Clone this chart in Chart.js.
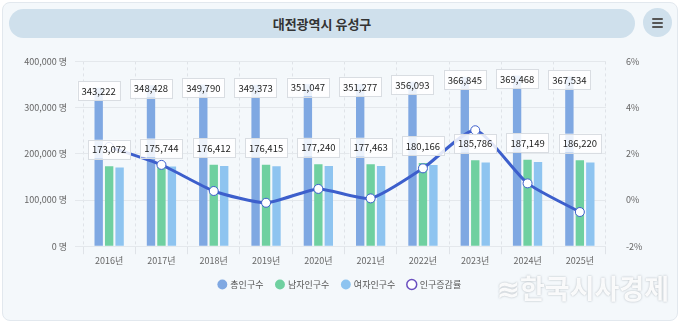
<!DOCTYPE html>
<html><head><meta charset="utf-8">
<script src="https://cdn.jsdelivr.net/npm/chart.js@4.4.1/dist/chart.umd.min.js"></script>
<style>
html,body{margin:0;padding:0;background:#fff;width:680px;height:323px;overflow:hidden;font-family:"Noto Sans CJK KR","Noto Sans",sans-serif;}
#card{position:absolute;left:2px;top:2px;width:674px;height:317px;background:#f4f8fb;border:1px solid #e2e8ee;border-radius:8px;}
#title{position:absolute;left:9px;top:9px;width:626px;height:29px;background:#cfe0ec;border-radius:15px;text-align:center;line-height:29px;font-size:13px;font-weight:bold;color:#333;}
#menu{position:absolute;left:643px;top:8px;width:29px;height:29px;border-radius:50%;background:#cfe0ec;}
#menu i{position:absolute;left:9px;width:11px;height:2px;background:#555;border-radius:1px;}
#wrap{position:absolute;left:0;top:44px;width:680px;height:255px;}
#wm{position:absolute;left:497px;top:268px;font-size:27px;font-weight:bold;color:rgba(255,255,255,0.92);text-shadow:0 0 2px rgba(110,120,130,0.55);letter-spacing:0px;}
</style></head>
<body>
<div id="card"></div>
<div id="title">대전광역시 유성구</div>
<div id="menu"><i style="top:10px"></i><i style="top:14px"></i><i style="top:18px"></i></div>
<div id="wrap"><canvas id="c"></canvas></div>
<div id="wm">≋한국시사경제</div>
<script>
const years = ['2016년','2017년','2018년','2019년','2020년','2021년','2022년','2023년','2024년','2025년'];
const totalPop = [343222,348428,349790,349373,351047,351277,356093,366845,369468,367534];
const malePop = [173072,175744,176412,176415,177240,177463,180166,185786,187149,186220];
const femalePop = [170150,172684,173378,172958,173807,173814,175927,181059,182319,181314];
const growthRate = [2.3,1.52,0.39,-0.12,0.48,0.07,1.37,3.02,0.72,-0.52];
const seriesNames = ['총인구수','남자인구수','여자인구수','인구증감률'];

const fmt = v => v.toLocaleString('en-US');
const labelPlugin = {
  id:'boxLabels',
  afterDatasetsDraw(chart){
    const ctx = chart.ctx;
    ctx.save();
    ctx.font = '9.5px "Noto Sans CJK KR", sans-serif';
    ctx.textAlign='center'; ctx.textBaseline='middle';
    [[0,3],[1,-17]].forEach(([di,off])=>{
      const meta = chart.getDatasetMeta(di);
      meta.data.forEach((el,i)=>{
        const t = fmt(chart.data.datasets[di].data[i]);
        const w = ctx.measureText(t).width + 8, h = 19;
        const x = el.x, y = el.y + off;
        ctx.fillStyle='rgba(255,255,255,0.85)';
        ctx.strokeStyle='#d9dde2'; ctx.lineWidth=1;
        ctx.fillRect(x-w/2, y-h/2, w, h);
        ctx.strokeRect(Math.round(x-w/2)+0.5, Math.round(y-h/2)+0.5, Math.round(w), h);
        ctx.fillStyle='#222';
        ctx.fillText(t, x, y+0.5);
      });
    });
    ctx.restore();
  }
};

new Chart(document.getElementById('c'), {
  data:{
    labels: years,
    datasets:[
      {type:'bar', label:seriesNames[0], data:totalPop, backgroundColor:'#7fa8e2', yAxisID:'y', order:2, categoryPercentage:0.6, barPercentage:0.8},
      {type:'bar', label:seriesNames[1], data:malePop, backgroundColor:'#6fd0a0', yAxisID:'y', order:2, categoryPercentage:0.6, barPercentage:0.8},
      {type:'bar', label:seriesNames[2], data:femalePop, backgroundColor:'#8ec4f0', yAxisID:'y', order:2, categoryPercentage:0.6, barPercentage:0.8},
      {type:'line', label:seriesNames[3], data:growthRate, borderColor:'#3d5fcc', backgroundColor:'#ffffff', borderWidth:3, tension:0.2,
       pointRadius:4.5, pointBackgroundColor:'#ffffff', pointBorderColor:'#3d5fcc', pointBorderWidth:1, yAxisID:'y1', order:1}
    ]
  },
  options:{
    responsive:true, maintainAspectRatio:false, animation:false,
    layout:{padding:{top:10,left:0,right:0,bottom:0}},
    plugins:{
      legend:{position:'bottom', labels:{usePointStyle:true, pointStyle:'circle', boxWidth:7, boxHeight:7, padding:13, color:'#555', font:{size:9, family:'"Noto Sans CJK KR", sans-serif'},
        generateLabels(chart){
          const cols=['#7fa8e2','#6fd0a0','#8ec4f0'];
          return chart.data.datasets.map((d,i)=>({text:d.label, fillStyle:i<3?cols[i]:'#ffffff', strokeStyle:i<3?cols[i]:'#6a4fc0', lineWidth:i<3?0:1.5, pointStyle:'circle', datasetIndex:i, hidden:false, fontColor:'#555'}));
        }}},
      tooltip:{enabled:false}
    },
    scales:{
      x:{grid:{offset:true, color:'#dfe3e8'}, border:{display:false, dash:[3,3]},
         ticks:{color:'#666', font:{size:9, family:'"Noto Sans CJK KR", sans-serif'}, padding:1}},
      y:{position:'left', min:0, max:400000, ticks:{stepSize:100000, color:'#666', padding:8, font:{size:9, family:'"Noto Sans CJK KR", sans-serif'}, callback:v=>fmt(v)+' 명'},
         grid:{color:'#e4e8ec'}, border:{display:false},
         afterFit(s){s.width=83;}},
      y1:{position:'right', min:-2, max:6, ticks:{stepSize:2, color:'#666', padding:12, font:{size:9, family:'"Noto Sans CJK KR", sans-serif'}, callback:v=>v+'%'},
         grid:{display:false}, border:{display:false},
         afterFit(s){s.width=74;}}
    }
  },
  plugins:[labelPlugin]
});
</script>
</body></html>
